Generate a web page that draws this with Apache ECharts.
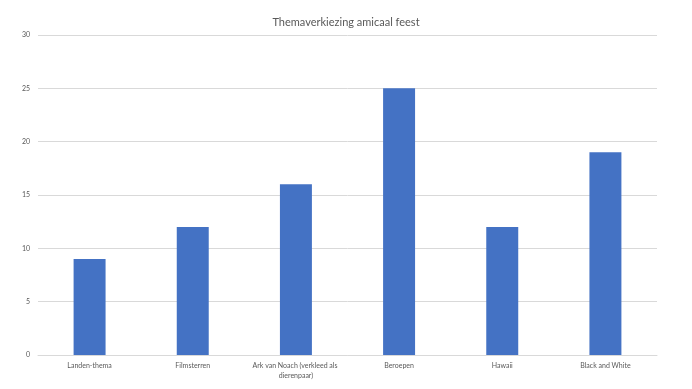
<!DOCTYPE html>
<html><head><meta charset="utf-8">
<script src="https://cdn.jsdelivr.net/npm/echarts@6/dist/echarts.min.js"></script>
<style>html,body{margin:0;padding:0;background:#fff}#c{width:692px;height:389px}</style>
</head><body><div id="c"></div>
<script>
const categories = ['Landen-thema', 'Filmsterren', 'Ark van Noach (verkleed als dierenpaar)', 'Beroepen', 'Hawaii', 'Black and White'];
const values = [9, 12, 16, 25, 12, 19];
const yTicks = { min: 0, max: 30, interval: 5 };
const titleText = 'Themaverkiezing amicaal feest';

const chart = echarts.init(document.getElementById('c'));
chart.setOption({
  animation: false,
  title: { text: titleText, left: 'center', top: 12, textStyle: { fontFamily: 'Lato', fontSize: 11, fontWeight: 'normal', color: '#595959' } },
  grid: { left: 38, right: 35, top: 35, bottom: 34 },
  xAxis: {
    type: 'category', data: categories,
    axisLine: { lineStyle: { color: '#d9d9d9' } },
    axisTick: { show: false },
    axisLabel: { fontFamily: 'Lato', fontSize: 7, color: '#595959', margin: 6, width: 96, overflow: 'break', interval: 0, lineHeight: 10 }
  },
  yAxis: {
    type: 'value', min: yTicks.min, max: yTicks.max, interval: yTicks.interval,
    axisLine: { show: false }, axisTick: { show: false },
    splitLine: { lineStyle: { color: '#d9d9d9' } },
    axisLabel: { fontFamily: 'Lato', fontSize: 7, color: '#595959', margin: 8 }
  },
  series: [{ type: 'bar', data: values, barWidth: '31%', itemStyle: { color: '#4472C4' } }]
});
</script></body></html>
